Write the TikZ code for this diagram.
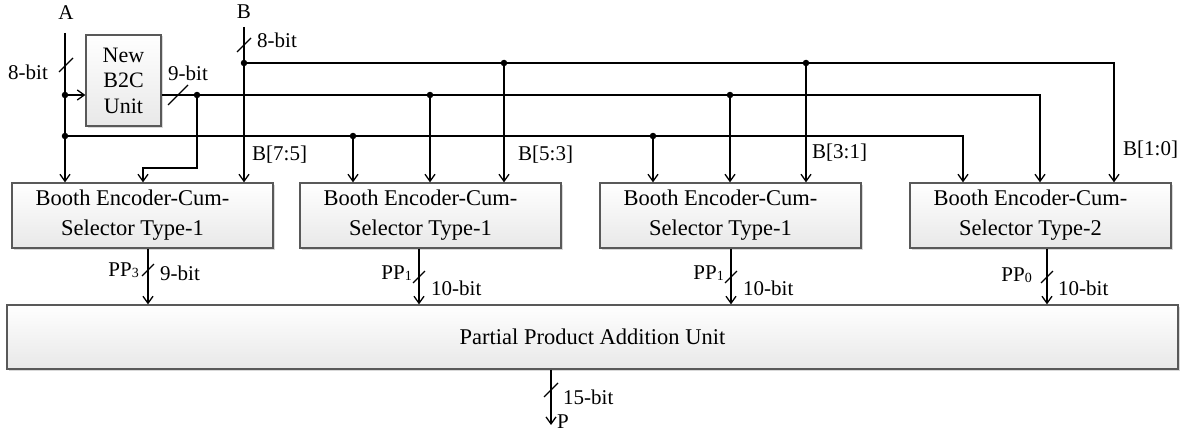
\documentclass[tikz,border=0pt]{standalone}
\usepackage{fontspec}
\setmainfont{Liberation Serif}
\usetikzlibrary{arrows.meta,shadows,calc}
\newcommand\bectext[1]{Booth Encoder-Cum-\hspace*{20pt}\\Selector Type-#1\hspace*{20pt}}
\newcommand\ppsub[1]{PP{\fontsize{14}{14}\selectfont\raisebox{-1pt}{#1}}}
\begin{document}
\begin{tikzpicture}[x=1pt,y=-1pt,
  wire/.style={line width=1.5pt,black},
  arr/.style={wire,-{Straight Barb[length=7pt,width=10pt,line width=1.3pt]}},
  blk/.style={draw=black!65,line width=1.3pt,top color=white,bottom color=black!9,
    drop shadow={shadow xshift=1.5pt,shadow yshift=-1.5pt,fill=black!25,opacity=0.6},
    font=\fontsize{22.5}{30}\selectfont,align=center,inner sep=0pt},
  lbl/.style={font=\fontsize{21}{25}\selectfont,inner sep=0pt},
  dot/.style={circle,fill=black,inner sep=0pt,minimum size=6.5pt},
  bitmark/.pic={\draw[line width=1.2pt] (-7,7) -- (7,-7);}
]
\useasboundingbox (0,0) rectangle (1185,436);

% blocks
\node[blk,minimum width=75pt,minimum height=91pt,font=\fontsize{22}{25.5}\selectfont] (b2c) at (123.5,80.5) {New\\B2C\\Unit};
\node[blk,minimum width=261pt,minimum height=65pt] (e1) at (142.5,215.5) {\bectext{1}};
\node[blk,minimum width=261pt,minimum height=65pt] (e2) at (430.5,215.5) {\bectext{1}};
\node[blk,minimum width=261pt,minimum height=65pt] (e3) at (730.5,215.5) {\bectext{1}};
\node[blk,minimum width=261pt,minimum height=65pt] (e4) at (1040.5,215.5) {\bectext{2}};
\node[blk,minimum width=1171pt,minimum height=64pt] (ppa) at (592.5,337) {Partial Product Addition Unit};

% inputs
\node[lbl] (Alab) at (66,13) {A};
\node[lbl] (Blab) at (244,12) {B};
\coordinate (Atop) at (65,33);
\coordinate (Btop) at (244,27);
\draw[arr] (Atop) -- (Atop |- e1.north);
\draw[arr] (Btop) -- (Btop |- e1.north);

\node[dot] (dA1) at (65,95) {};
\node[dot] (dA2) at (65,136) {};
\node[dot] (dB1) at (244,63) {};
\node[dot] (dC1) at (197,95) {};
\draw[arr] (dA1) -- (b2c.west |- dA1);

% buses
\coordinate (kB) at (1114,63);
\coordinate (kC) at (1040,95);
\coordinate (kA) at (963,136);
\draw[arr] (dB1) -- (kB) -- (kB |- e4.north);
\draw[arr] (b2c.east |- dC1) -- (kC) -- (kC |- e4.north);
\draw[arr] (dA2) -- (kA) -- (kA |- e4.north);
\coordinate (c1) at (143,168);
\draw[arr] (dC1) |- (c1) -- (c1 |- e1.north);

% drops
\node[dot] (dA3) at (353,136) {};
\node[dot] (dC2) at (430,95) {};
\node[dot] (dB2) at (504,63) {};
\node[dot] (dA4) at (653,136) {};
\node[dot] (dC3) at (730,95) {};
\node[dot] (dB3) at (806,63) {};
\foreach \d/\e in {dA3/e2,dC2/e2,dB2/e2,dA4/e3,dC3/e3,dB3/e3}
  \draw[arr] (\d) -- (\d |- \e.north);

% bit marks and labels
\path (66,65) pic {bitmark};
\path (244,45) pic {bitmark};
\draw[line width=1.2pt] (168,105) -- (188,85);
\node[lbl] (Abit) at (28,72) {8-bit};
\node[lbl,anchor=west] (Bbit) at (257,40) {8-bit};
\node[lbl] (Cbit) at (188,73) {9-bit};
\node[lbl,anchor=west] (l1) at (252,155) {B[7:5]};
\node[lbl,anchor=west] (l2) at (518,155) {B[5:3]};
\node[lbl,anchor=west] (l3) at (812,153) {B[3:1]};
\node[lbl,anchor=west] (l4) at (1123,150) {B[1:0]};

% outputs
\coordinate (o1) at (148,270);
\coordinate (o2) at (419,277);
\coordinate (o3) at (731,277);
\coordinate (o4) at (1047,277);
\draw[arr] (e1.south -| o1) -- (ppa.north -| o1);
\draw[arr] (e2.south -| o2) -- (ppa.north -| o2);
\draw[arr] (e3.south -| o3) -- (ppa.north -| o3);
\draw[arr] (e4.south -| o4) -- (ppa.north -| o4);
\foreach \o in {o1,o2,o3,o4} \path (\o) pic[scale=0.85] {bitmark};
\node[lbl,anchor=east] (p1) at (139,270) {\ppsub{3}};
\node[lbl,anchor=east] (p2) at (412,273) {\ppsub{1}};
\node[lbl,anchor=east] (p3) at (724,273) {\ppsub{1}};
\node[lbl,anchor=east] (p4) at (1032,275) {\ppsub{0}};
\node[lbl,anchor=west] (w1) at (160,273) {9-bit};
\node[lbl,anchor=west] (w2) at (431,288) {10-bit};
\node[lbl,anchor=west] (w3) at (743,288) {10-bit};
\node[lbl,anchor=west] (w4) at (1058,288) {10-bit};

% result
\coordinate (pout) at (551,425);
\draw[arr] (ppa.south -| pout) -- (pout);
\path (551,390) pic {bitmark};
\node[lbl,anchor=west] (w5) at (563,397) {15-bit};
\node[lbl,anchor=west] (Plab) at (557,422) {P};
\end{tikzpicture}
\end{document}
